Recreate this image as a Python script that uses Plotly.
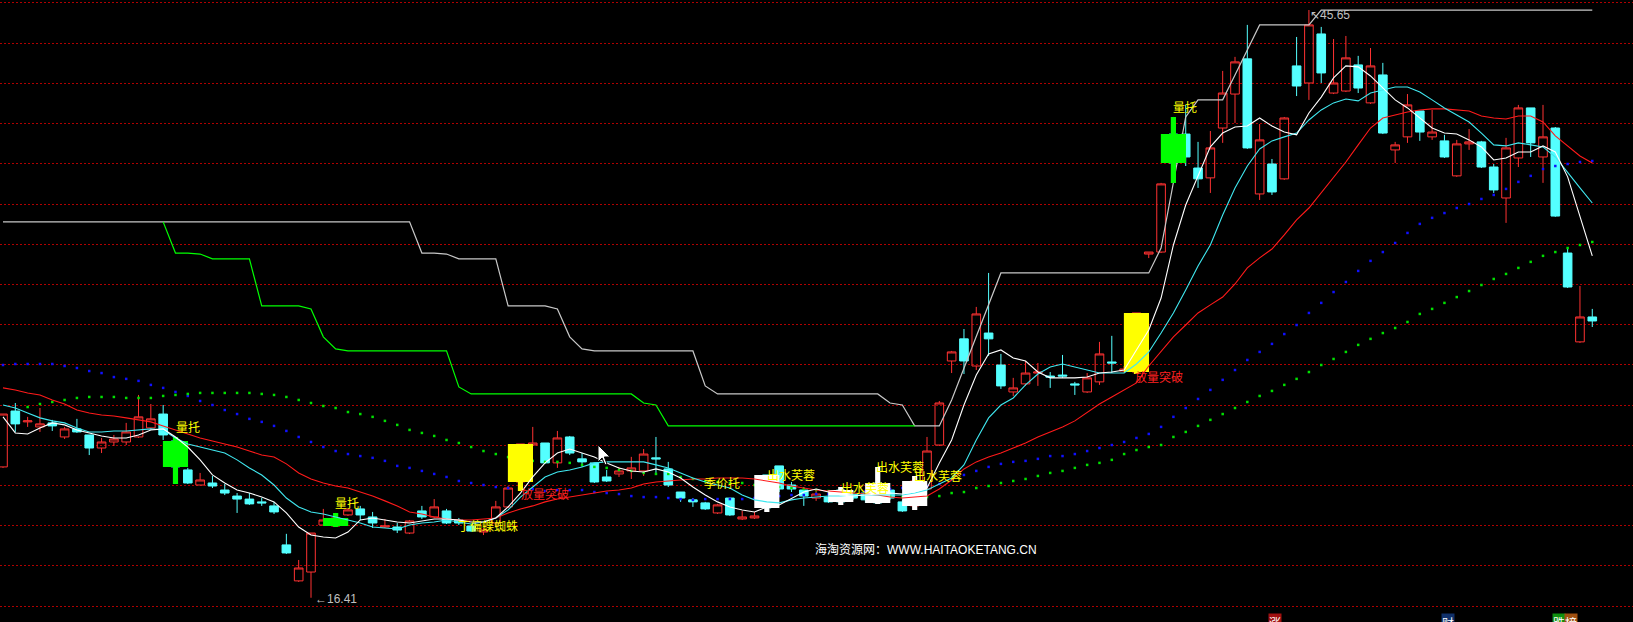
import plotly.graph_objects as go

# ---------------- data (prices) ----------------
IDX = list(range(130))

OPEN = [22.92, 25.70, 25.16, 24.91, 25.11, 24.41, 24.81, 24.51, 23.86, 24.16,
        24.16, 24.41, 24.86, 25.55, 24.21, 22.77, 22.02, 22.12, 21.77, 21.47,
        21.32, 21.18, 20.98, 19.04, 17.25, 17.69, 20.03, 19.98, 20.53, 20.83,
        20.43, 19.93, 19.93, 19.63, 20.73, 20.43, 20.73, 20.28, 19.98, 19.68,
        20.13, 20.93, 22.17, 24.01, 24.11, 23.12, 24.41, 23.32, 23.12, 22.42,
        22.57, 22.72, 22.72, 23.37, 22.82, 21.67, 21.28, 21.13, 20.63, 21.37,
        20.33, 20.38, 22.52, 22.97, 22.02, 21.77, 21.37, 21.42, 21.77, 21.57,
        21.62, 22.12, 21.77, 21.18, 20.98, 21.82, 24.01, 28.19, 29.29, 27.94,
        29.58, 27.99, 26.65, 27.05, 27.59, 27.44, 27.49, 27.05, 26.65, 27.15,
        28.14, 27.69, 27.64, 33.51, 33.61, 39.48, 39.48, 37.79, 37.30, 39.78,
        41.47, 43.22, 36.50, 37.99, 37.25, 42.87, 42.02, 44.46, 41.52, 41.62,
        42.92, 41.03, 42.42, 38.69, 39.34, 40.63, 39.34, 39.14, 37.40, 38.99,
        39.09, 37.84, 36.30, 38.29, 40.78, 38.34, 39.78, 33.56, 29.14, 30.38]

HIGH = [25.55, 26.10, 25.41, 25.85, 25.26, 24.91, 25.31, 24.51, 24.36, 24.51,
        25.11, 26.50, 26.05, 26.00, 24.41, 22.87, 22.62, 22.47, 22.07, 21.62,
        21.62, 21.38, 21.18, 19.59, 18.29, 19.63, 20.83, 20.63, 20.88, 20.98,
        20.68, 20.33, 20.13, 20.28, 20.98, 21.32, 20.83, 20.38, 20.08, 19.88,
        21.23, 21.97, 24.06, 24.91, 24.11, 24.71, 24.46, 23.61, 23.12, 22.77,
        22.92, 23.42, 23.81, 24.41, 23.17, 21.67, 21.37, 21.18, 21.08, 21.37,
        20.73, 20.68, 22.52, 22.97, 22.17, 21.92, 21.77, 21.52, 21.92, 21.67,
        21.77, 22.92, 21.87, 21.28, 22.47, 24.41, 26.20, 28.69, 29.78, 30.88,
        32.57, 28.54, 27.35, 28.19, 28.09, 27.64, 28.49, 27.15, 27.59, 29.14,
        29.44, 27.94, 30.58, 33.61, 37.05, 40.33, 40.93, 39.09, 39.63, 42.62,
        43.32, 44.91, 39.98, 38.24, 40.33, 44.31, 45.65, 44.81, 44.21, 44.36,
        43.37, 43.76, 43.02, 39.09, 41.47, 40.63, 40.68, 39.44, 39.19, 39.73,
        39.14, 37.99, 39.29, 40.93, 40.78, 40.93, 39.83, 33.86, 31.92, 30.78]

LOW = [22.87, 24.66, 24.91, 24.66, 24.71, 24.31, 24.61, 23.51, 23.61, 23.96,
       24.01, 24.36, 24.76, 24.26, 22.07, 22.07, 22.02, 21.87, 21.52, 20.63,
       21.03, 20.98, 20.58, 18.59, 17.20, 16.41, 19.98, 19.93, 20.48, 20.28,
       19.88, 19.88, 19.63, 19.58, 20.33, 20.38, 20.08, 20.03, 19.68, 19.53,
       19.93, 20.88, 21.72, 23.96, 23.07, 22.87, 23.51, 22.92, 22.12, 22.17,
       22.42, 22.32, 22.47, 22.62, 21.92, 21.18, 20.93, 20.78, 20.58, 20.48,
       20.28, 20.33, 20.68, 21.67, 21.67, 20.98, 21.23, 21.13, 21.03, 21.28,
       21.13, 21.08, 21.28, 20.68, 20.78, 21.77, 23.96, 27.59, 27.54, 27.74,
       28.44, 26.80, 26.45, 26.95, 26.95, 26.85, 27.35, 26.50, 26.60, 27.00,
       27.59, 27.59, 27.54, 33.31, 33.56, 37.05, 37.89, 36.80, 36.55, 39.04,
       40.03, 38.74, 36.20, 36.45, 37.20, 41.37, 41.18, 42.02, 41.47, 41.57,
       41.52, 40.98, 39.48, 38.04, 39.04, 39.14, 39.19, 38.29, 37.35, 38.69,
       37.79, 36.55, 35.06, 37.84, 38.34, 37.05, 35.36, 31.82, 29.09, 29.88]

CLOSE = [25.55, 25.06, 25.21, 25.06, 24.96, 24.81, 24.66, 23.86, 24.16, 24.31,
         24.66, 25.41, 25.31, 24.51, 22.92, 22.12, 22.27, 21.97, 21.62, 21.32,
         21.08, 21.13, 20.68, 18.64, 17.89, 19.63, 20.28, 20.38, 20.78, 20.53,
         20.13, 19.98, 19.78, 20.23, 20.43, 20.93, 20.13, 20.13, 19.73, 19.78,
         20.93, 21.87, 24.06, 24.11, 23.12, 24.36, 23.61, 23.17, 22.17, 22.22,
         22.72, 22.87, 23.56, 23.32, 22.02, 21.37, 21.18, 20.83, 21.03, 20.53,
         20.43, 20.48, 20.88, 21.82, 21.82, 21.47, 21.57, 21.18, 21.18, 21.37,
         21.28, 21.13, 21.37, 20.73, 22.22, 23.71, 26.10, 28.64, 28.19, 30.53,
         29.29, 26.95, 26.85, 27.59, 27.64, 27.39, 27.44, 27.00, 27.35, 28.54,
         28.09, 27.79, 30.58, 33.61, 37.00, 38.04, 38.34, 37.25, 38.79, 41.52,
         43.07, 38.79, 39.19, 36.60, 40.28, 41.87, 44.91, 42.52, 42.02, 43.27,
         41.77, 42.87, 39.53, 38.94, 40.93, 39.58, 39.58, 38.34, 38.99, 39.09,
         37.84, 36.70, 38.79, 40.78, 39.04, 39.34, 35.40, 31.87, 30.38, 30.18]

MA_WHITE = [25.41, 24.61, 24.56, 24.86, 25.11, 25.01, 24.76, 24.61, 24.46, 24.36,
            24.36, 24.51, 24.76, 24.81, 24.41, 23.91, 23.27, 22.52, 22.12, 21.77,
            21.62, 21.42, 21.18, 20.63, 19.93, 19.53, 19.43, 19.38, 19.68, 20.28,
            20.38, 20.28, 20.18, 20.13, 20.23, 20.33, 20.33, 20.28, 20.18, 20.18,
            20.38, 20.93, 21.62, 22.42, 23.12, 23.61, 23.81, 23.61, 23.41, 23.12,
            22.87, 22.72, 22.67, 22.82, 22.67, 22.37, 21.92, 21.52, 21.18, 20.93,
            20.78, 20.68, 20.93, 21.03, 21.37, 21.67, 21.82, 21.67, 21.52, 21.47,
            21.52, 21.57, 21.62, 21.57, 21.67, 21.87, 23.12, 24.26, 26.00, 27.49,
            28.54, 28.74, 28.34, 28.19, 27.64, 27.35, 27.35, 27.35, 27.39, 27.59,
            27.64, 27.74, 28.74, 29.73, 31.32, 33.96, 35.95, 37.44, 38.84, 39.53,
            39.83, 39.88, 40.28, 39.88, 39.58, 39.44, 40.53, 41.32, 42.27, 42.87,
            42.82, 42.37, 41.77, 41.18, 40.78, 40.28, 39.78, 39.53, 39.48, 39.19,
            38.84, 38.19, 38.29, 38.59, 38.59, 38.89, 38.59, 37.35, 35.36, 33.42]

MA_CYAN = [26.00, 25.85, 25.60, 25.36, 25.21, 25.11, 24.86, 24.66, 24.66, 24.71,
           24.71, 24.76, 24.81, 24.76, 24.36, 24.06, 23.91, 23.76, 23.61, 23.27,
           22.87, 22.52, 22.02, 21.37, 20.93, 20.68, 20.58, 20.43, 20.28, 20.13,
           19.93, 19.88, 19.83, 20.03, 20.13, 20.18, 20.28, 20.18, 20.08, 20.18,
           20.38, 20.78, 21.42, 21.92, 22.42, 22.67, 22.77, 22.92, 23.12, 23.17,
           23.17, 23.17, 23.17, 23.02, 22.87, 22.62, 22.37, 22.17, 22.02, 21.87,
           21.52, 21.28, 21.18, 21.13, 21.28, 21.37, 21.42, 21.47, 21.47, 21.52,
           21.52, 21.52, 21.52, 21.52, 21.62, 21.77, 22.07, 22.37, 23.02, 24.26,
           25.36, 26.00, 26.35, 27.00, 27.54, 27.89, 28.04, 27.89, 27.74, 27.59,
           27.59, 27.59, 28.04, 28.64, 29.58, 30.58, 31.72, 32.92, 33.96, 35.45,
           36.80, 37.89, 38.74, 39.14, 39.34, 39.53, 40.18, 40.68, 41.03, 41.22,
           41.13, 41.52, 41.67, 41.82, 41.82, 41.57, 41.18, 40.78, 40.43, 40.08,
           39.53, 38.94, 38.89, 39.04, 38.94, 38.84, 38.34, 37.54, 36.80, 36.05]

MA_RED = [26.85, 26.75, 26.60, 26.50, 26.25, 26.05, 25.75, 25.60, 25.50, 25.45,
          25.36, 25.26, 25.16, 24.96, 24.76, 24.56, 24.36, 24.21, 24.06, 23.91,
          23.71, 23.51, 23.41, 23.07, 22.62, 22.32, 22.12, 21.97, 21.87, 21.67,
          21.47, 21.23, 20.98, 20.68, 20.58, 20.43, 20.33, 20.28, 20.28, 20.33,
          20.38, 20.63, 20.83, 20.98, 21.18, 21.32, 21.42, 21.52, 21.62, 21.72,
          21.77, 21.87, 22.07, 22.17, 22.22, 22.27, 22.32, 22.32, 22.37, 22.37,
          22.37, 22.32, 22.22, 22.12, 21.97, 21.87, 21.77, 21.72, 21.67, 21.62,
          21.57, 21.52, 21.42, 21.37, 21.42, 21.47, 21.82, 22.27, 22.82, 23.17,
          23.41, 23.61, 23.86, 24.11, 24.41, 24.66, 24.91, 25.21, 25.65, 26.05,
          26.40, 26.75, 27.10, 27.94, 28.64, 29.39, 29.98, 30.58, 30.98, 31.37,
          32.02, 32.82, 33.32, 33.76, 34.46, 35.21, 35.80, 36.55, 37.35, 38.09,
          38.94, 39.78, 40.28, 40.43, 40.58, 40.68, 40.73, 40.73, 40.68, 40.63,
          40.38, 40.28, 40.23, 40.38, 40.38, 40.08, 39.39, 38.89, 38.39, 38.04]

DOT_BLUE = [27.99, 28.04, 28.04, 28.04, 28.04, 27.94, 27.84, 27.69, 27.59, 27.39,
            27.30, 27.20, 27.00, 26.85, 26.65, 26.45, 26.20, 26.00, 25.75, 25.55,
            25.31, 25.16, 24.96, 24.71, 24.41, 24.16, 23.91, 23.71, 23.56, 23.46,
            23.37, 23.22, 22.97, 22.87, 22.72, 22.57, 22.42, 22.22, 22.12, 22.02,
            21.92, 21.87, 21.87, 21.82, 21.72, 21.77, 21.77, 21.77, 21.67, 21.62,
            21.57, 21.47, 21.42, 21.42, 21.37, 21.32, 21.28, 21.32, 21.32, 21.32,
            21.32, 21.37, 21.42, 21.47, 21.52, 21.52, 21.57, 21.57, 21.62, 21.67,
            21.72, 21.77, 21.82, 21.87, 21.92, 21.97, 22.07, 22.27, 22.52, 22.72,
            22.92, 23.07, 23.17, 23.22, 23.32, 23.46, 23.46, 23.56, 23.71, 23.86,
            24.01, 24.16, 24.36, 24.56, 24.91, 25.41, 25.85, 26.30, 26.75, 27.25,
            27.74, 28.24, 28.64, 29.04, 29.53, 29.98, 30.58, 31.08, 31.62, 32.12,
            32.67, 33.17, 33.61, 34.06, 34.56, 35.01, 35.31, 35.55, 35.80, 36.00,
            36.25, 36.45, 36.75, 37.10, 37.40, 37.74, 37.89, 37.99, 38.09, 38.14]

DOT_GREEN_IDX = list(range(2, 130))
DOT_GREEN = [25.90, 26.05, 26.15, 26.25, 26.35, 26.40, 26.40, 26.40,
             26.35, 26.35, 26.35, 26.45, 26.50, 26.55, 26.60, 26.60, 26.60, 26.60,
             26.60, 26.55, 26.50, 26.40, 26.25, 26.10, 25.95, 25.85, 25.65, 25.55,
             25.41, 25.21, 25.01, 24.76, 24.61, 24.46, 24.26, 24.11, 23.91, 23.71,
             23.56, 23.41, 23.32, 23.22, 23.17, 23.17, 23.12, 23.02, 22.92, 22.87,
             22.77, 22.72, 22.62, 22.57, 22.57, 22.42, 22.32, 22.22, 22.17, 22.12,
             22.12, 22.02, 21.97, 21.92, 21.87, 21.82, 21.77, 21.72, 21.67, 21.62,
             21.57, 21.52, 21.47, 21.42, 21.42, 21.42, 21.47, 21.62, 21.67, 21.87,
             21.97, 22.12, 22.22, 22.32, 22.47, 22.62, 22.72, 22.87, 23.02, 23.12,
             23.27, 23.56, 23.76, 23.91, 24.01, 24.41, 24.66, 24.96, 25.26, 25.55,
             25.85, 26.15, 26.45, 26.70, 27.00, 27.30, 27.64, 27.99, 28.29, 28.64,
             28.99, 29.29, 29.58, 29.83, 30.13, 30.53, 30.78, 31.08, 31.37, 31.67,
             31.97, 32.27, 32.52, 32.82, 33.12, 33.42, 33.61, 33.81, 33.96, 34.11]

STEP_GRAY = [35.11, 35.11, 35.11, 35.11, 35.11, 35.11, 35.11, 35.11, 35.11, 35.11,
             35.11, 35.11, 35.11, 35.11, 35.11, 35.11, 35.11, 35.11, 35.11, 35.11,
             35.11, 35.11, 35.11, 35.11, 35.11, 35.11, 35.11, 35.11, 35.11, 35.11,
             35.11, 35.11, 35.11, 35.11, 33.56, 33.56, 33.51, 33.27, 33.27, 33.27,
             33.27, 30.93, 30.93, 30.93, 30.93, 30.78, 29.39, 28.79, 28.69, 28.69,
             28.69, 28.69, 28.69, 28.69, 28.69, 28.69, 28.69, 26.95, 26.55, 26.55,
             26.55, 26.55, 26.55, 26.55, 26.55, 26.55, 26.55, 26.55, 26.55, 26.55,
             26.55, 26.55, 26.10, 26.00, 24.96, 24.96, 24.96, 26.25, 27.84, 29.44,
             31.03, 32.57, 32.57, 32.57, 32.57, 32.57, 32.57, 32.57, 32.57, 32.57,
             32.57, 32.57, 32.57, 32.57, 33.81, 37.05, 40.33, 41.18, 41.18, 41.18,
             42.42, 43.66, 44.91, 44.91, 44.91, 44.91, 44.91, 45.65, 45.65, 45.65,
             45.65, 45.65, 45.65, 45.65, 45.65, 45.65, 45.65, 45.65, 45.65, 45.65,
             45.65, 45.65, 45.65, 45.65, 45.65, 45.65, 45.65, 45.65, 45.65, 45.65]

STEP_GREEN_IDX = list(range(13, 75))
STEP_GREEN = [35.11, 33.56, 33.56, 33.51, 33.27, 33.27, 33.27, 33.27, 30.93, 30.93,
              30.93, 30.93, 30.78, 29.39, 28.79, 28.69, 28.69, 28.69, 28.69, 28.69,
              28.69, 28.69, 28.69, 28.69, 26.90, 26.55, 26.55, 26.55, 26.55, 26.55,
              26.55, 26.55, 26.55, 26.55, 26.55, 26.55, 26.55, 26.55, 26.55, 26.10,
              26.00, 24.96, 24.96, 24.96, 24.96, 24.96, 24.96, 24.96, 24.96, 24.96,
              24.96, 24.96, 24.96, 24.96, 24.96, 24.96, 24.96, 24.96, 24.96, 24.96,
              24.96, 24.96]

# signal candles redrawn as wide blocks
SIG_IDX = [14, 27, 95, 42, 92, 62, 68, 71, 74]
SIG_KIND = ["量托", "量托", "量托", "放量突破", "放量突破",
            "出水芙蓉", "出水芙蓉", "出水芙蓉", "出水芙蓉"]

# text labels: (text, candle position, price, kind)
LABELS = [("量托", 15.02, 24.91, "y"), ("量托", 27.92, 21.13, "y"), ("量托", 95.94, 40.83, "y"),
          ("放量突破", 43.99, 21.62, "r"), ("放量突破", 93.83, 27.40, "r"),
          ("丁偏蝶蜘蛛", 39.37, 20.03, "y"), ("季价托", 58.36, 22.12, "y"),
          ("出水芙蓉", 63.96, 22.52, "y"), ("出水芙蓉", 69.97, 21.92, "y"),
          ("出水芙蓉", 72.81, 22.92, "y"), ("出水芙蓉", 75.89, 22.47, "y")]

LOW_MARK = (25.16, 16.35, "←16.41")
HIGH_MARK = (105.95, 45.40, "↖45.65")

# ---------------- styles ----------------
RED = "#ff3232"
CYAN = "#54ffff"
BLOCK_COLOR = {"量托": "#00ff00", "放量突破": "#ffff00", "出水芙蓉": "#ffffff"}
TEXT_COLOR = {"y": "#ffff00", "r": "#ff2020"}
CJK = "Noto Sans CJK SC"
BODY_HALF = 1.02
STEM_HALF = 0.21

fig = go.Figure()

# dotted bands
fig.add_trace(go.Scatter(x=IDX, y=DOT_BLUE, mode="markers",
                         marker=dict(symbol="square", size=2.5, color="#1010ff", line=dict(width=0)),
                         hoverinfo="skip"))
fig.add_trace(go.Scatter(x=DOT_GREEN_IDX, y=DOT_GREEN, mode="markers",
                         marker=dict(symbol="square", size=2.5, color="#00e000", line=dict(width=0)),
                         hoverinfo="skip"))

# candles
fig.add_trace(go.Candlestick(
    x=IDX, open=OPEN, high=HIGH, low=LOW, close=CLOSE,
    increasing=dict(line=dict(color=RED, width=1), fillcolor="rgba(0,0,0,0)"),
    decreasing=dict(line=dict(color=CYAN, width=1), fillcolor=CYAN),
    whiskerwidth=0, hoverinfo="skip"))

# step lines
fig.add_trace(go.Scatter(x=IDX, y=STEP_GRAY, mode="lines",
                         line=dict(color="#c8c8c8", width=1.2), hoverinfo="skip"))
fig.add_trace(go.Scatter(x=STEP_GREEN_IDX, y=STEP_GREEN, mode="lines",
                         line=dict(color="#00ff00", width=1.2), hoverinfo="skip"))


# signal blocks (wide candles drawn as filled polygons, above the normal candles)
def rect(xc, half, y0, y1):
    return ([xc - half, xc + half, xc + half, xc - half, xc - half, None],
            [y0, y0, y1, y1, y0, None])


for kind in ["量托", "放量突破", "出水芙蓉"]:
    xs, ys = [], []
    for i, k in zip(SIG_IDX, SIG_KIND):
        if k != kind:
            continue
        a, b = rect(i, STEM_HALF, LOW[i], HIGH[i])
        xs += a
        ys += b
        a, b = rect(i, BODY_HALF, min(OPEN[i], CLOSE[i]), max(OPEN[i], CLOSE[i]))
        xs += a
        ys += b
    fig.add_trace(go.Scatter(x=xs, y=ys, mode="lines", fill="toself",
                             fillcolor=BLOCK_COLOR[kind], line=dict(width=0, color=BLOCK_COLOR[kind]),
                             hoverinfo="skip"))

# moving averages
for ser, col in [(MA_RED, "#ff1a1a"), (MA_CYAN, "#40e8f0"), (MA_WHITE, "#ffffff")]:
    fig.add_trace(go.Scatter(x=IDX, y=ser, mode="lines",
                             line=dict(color=col, width=1.1), hoverinfo="skip"))

# labels
for t, xi, yp, k in LABELS:
    fig.add_annotation(x=xi, y=yp, text=t, showarrow=False,
                       font=dict(family=CJK, size=12, color=TEXT_COLOR[k]))

fig.add_annotation(x=LOW_MARK[0], y=LOW_MARK[1], text=LOW_MARK[2], showarrow=False,
                   xanchor="left", font=dict(family="Liberation Sans", size=12, color="#c0c0c0"))
fig.add_annotation(x=HIGH_MARK[0], y=HIGH_MARK[1], text=HIGH_MARK[2], showarrow=False,
                   xanchor="left", font=dict(family="Liberation Sans", size=12, color="#c0c0c0"))

# watermark
fig.add_annotation(xref="paper", yref="paper", x=0.567, y=0.101,
                   text="海淘资源网：WWW.HAITAOKETANG.CN", showarrow=False,
                   font=dict(family="Liberation Sans, " + CJK, size=12, color="#ffffff"))

# bottom tabs (cut by the lower edge, as in the reference)
for t, xp, bg in [("涨", 0.7853, "#a01010"), ("财", 0.8913, "#10306a"),
                  ("跌", 0.9587, "#109010"), ("榜", 0.9666, "#a05010")]:
    fig.add_annotation(xref="paper", yref="paper", x=xp, y=0.0145, yanchor="top",
                       text=t, showarrow=False, bgcolor=bg, borderpad=0,
                       font=dict(family=CJK, size=12, color="#ffffff"))

# mouse pointer captured in the screenshot (paper coordinates)
fig.add_shape(type="path", xref="paper", yref="paper", layer="above",
              path="M 0.3662,0.2846 L 0.3662,0.2572 L 0.3687,0.2637 L 0.3705,0.2524 "
                   "L 0.3717,0.2540 L 0.3701,0.2653 L 0.3736,0.2653 Z",
              fillcolor="#ffffff", line=dict(color="#000000", width=1))

fig.update_layout(
    width=1633, height=622, margin=dict(l=0, r=0, t=0, b=0),
    paper_bgcolor="black", plot_bgcolor="black",
    showlegend=False, boxgap=0.3, boxgroupgap=0,
    hovermode=False,
    xaxis=dict(range=[-0.2435, 132.305], visible=False,
               rangeslider=dict(visible=False), showgrid=False, zeroline=False),
    yaxis=dict(range=[15.204, 46.149], showticklabels=False, ticks="",
               showgrid=True, gridcolor="#b00000", griddash="2px,2px", gridwidth=1,
               tick0=16, dtick=2, zeroline=False, showline=False),
)

fig.write_html("out.html", config={"displayModeBar": False},
               post_script="document.body.style.margin='0';document.body.style.background='#000';")
